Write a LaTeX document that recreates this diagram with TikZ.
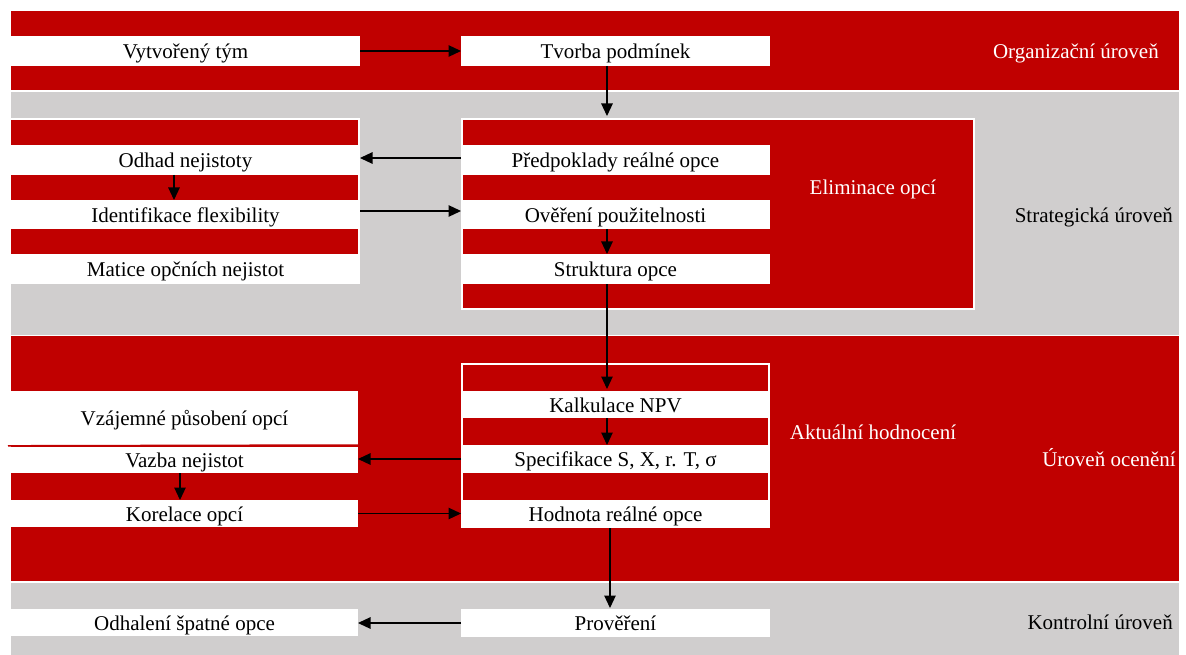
\documentclass[tikz,border=0pt]{standalone}
\usepackage{fontspec}
\setmainfont{Liberation Serif}
\usetikzlibrary{arrows.meta}
\definecolor{ured}{RGB}{192,0,0}
\definecolor{ugray}{RGB}{208,206,206}
\tikzset{
  redband/.style={fill=ured, draw=none},
  grayband/.style={fill=ugray, draw=none},
  stripe/.style={fill=ured, draw=none},
  txt/.style={font=\fontsize{21}{24}\selectfont},
  rowbox/.style={txt, fill=white, draw=none, inner sep=0pt, outer sep=0pt,
    text height=19.5pt, text depth=4.3pt, text=black},
  lbl/.style={txt, inner sep=0pt},
  conn/.style={draw=black, line width=1.2pt, -{Triangle[length=12.5pt,width=11.5pt]}},
}
\begin{document}
\begin{tikzpicture}[x=1pt,y=-1pt]
\useasboundingbox (0,0) rectangle (1186,655);
% bands
\fill[redband] (11,11) rectangle (1179,90.5);
\fill[grayband] (11,92.5) rectangle (1179,334.5);
\fill[redband] (11,336) rectangle (1179,580.5);
\fill[grayband] (11,582.5) rectangle (1179,655);

% organisational level
\node[rowbox, minimum width=349pt, minimum height=30pt] (vyt) at (185.5,51) {Vytvořený tým};
\node[rowbox, minimum width=309pt, minimum height=30pt] (tvo) at (615.5,51) {Tvorba podmínek};
\node[lbl, text=white, anchor=base east] (lorg) at (1159,58.3) {Organizační úroveň};

% strategic level
\node[fill=ured, draw=white, line width=2pt, inner sep=0pt, minimum width=512pt, minimum height=190pt] (elim) at (718,214) {};
\fill[white] (11,118) rectangle (360,284);
\fill[stripe] (11,120) rectangle (358,145);
\fill[stripe] (11,175) rectangle (358,200);
\fill[stripe] (11,229) rectangle (358,254);
\node[rowbox, minimum width=349pt, minimum height=30pt] (odh) at (185.5,160) {Odhad nejistoty};
\node[rowbox, minimum width=349pt, minimum height=29pt] (ide) at (185.5,214.5) {Identifikace flexibility};
\node[rowbox, minimum width=349pt, minimum height=30pt] (mat) at (185.5,269) {Matice opčních nejistot};
\node[rowbox, minimum width=309pt, minimum height=30pt] (pre) at (615.5,160) {Předpoklady reálné opce};
\node[rowbox, minimum width=309pt, minimum height=29pt] (ove) at (615.5,214.5) {Ověření použitelnosti};
\node[rowbox, minimum width=309pt, minimum height=30pt] (str) at (615.5,269) {Struktura opce};
\node[lbl, text=white, anchor=base] (lelim) at (873,194.6) {Eliminace opcí};
\node[lbl, text=black, anchor=base east] (lstr) at (1173,223) {Strategická úroveň};

% valuation level
\node[fill=white, draw=none, inner sep=0pt, minimum width=309pt, minimum height=165pt] (akt) at (615.5,445.5) {};
\fill[stripe] (463,365) rectangle (768,391);
\fill[stripe] (463,418) rectangle (768,445);
\fill[stripe] (463,473) rectangle (768,500);
\node[rowbox, minimum width=309pt, minimum height=27pt] (kal) at (615.5,404.5) {Kalkulace NPV};
\node[rowbox, minimum width=309pt, minimum height=28pt] (spe) at (615.5,459) {Specifikace S, X, r. T, σ};
\node[rowbox, minimum width=309pt, minimum height=28pt] (hod) at (615.5,514) {Hodnota reálné opce};
\node[rowbox, minimum width=347pt, minimum height=54pt] (vza) at (184.5,418) {Vzájemné působení opcí};
\node[rowbox, minimum width=347pt, minimum height=26pt] (vaz) at (184.5,460) {Vazba nejistot};
\node[rowbox, minimum width=347pt, minimum height=27pt] (kor) at (184.5,513.5) {Korelace opcí};
\draw[ured, line width=1.5pt] (8,445.8) -- (vza.south east);
\node[lbl, text=white, anchor=base] (lakt) at (873,439.6) {Aktuální hodnocení};
\node[lbl, text=white, anchor=base east] (locen) at (1176,466) {Úroveň ocenění};

% control level
\node[rowbox, minimum width=309pt, minimum height=28pt] (prov) at (615.5,623) {Prověření};
\node[rowbox, minimum width=347pt, minimum height=27pt] (odha) at (184.5,622.5) {Odhalení špatné opce};
\node[lbl, text=black, anchor=base east] (lkon) at (1173,629) {Kontrolní úroveň};

% connectors
\draw[conn] (vyt.east) -- (tvo.west);
\draw[conn, shorten >=2pt] ([xshift=-8.5pt]tvo.south) -- ([xshift=-8.5pt]tvo.south |- elim.north);
\draw[conn] ([yshift=2pt]pre.west) -- ([yshift=2pt]odh.east);
\draw[conn] ([yshift=3.5pt]ide.east) -- ([yshift=3.5pt]ove.west);
\draw[conn] ([xshift=-11.5pt]odh.south) -- ([xshift=-11.5pt]ide.north);
\draw[conn] ([xshift=-8.5pt]ove.south) -- ([xshift=-8.5pt]str.north);
\draw[conn, shorten >=2pt] ([xshift=-8.5pt]str.south) -- ([xshift=-8.5pt]kal.north);
\draw[conn] ([xshift=-8.5pt]kal.south) -- ([xshift=-8.5pt]spe.north);
\draw[conn] (spe.west) -- (spe.west -| vaz.east);
\draw[conn] ([xshift=-4.5pt]vaz.south) -- ([xshift=-4.5pt]kor.north);
\draw[conn] (kor.east) -- (kor.east -| hod.west);
\draw[conn, shorten >=1pt] ([xshift=-5.5pt]hod.south) -- ([xshift=-5.5pt]prov.north);
\draw[conn] (prov.west) -- (prov.west -| odha.east);
\end{tikzpicture}
\end{document}
